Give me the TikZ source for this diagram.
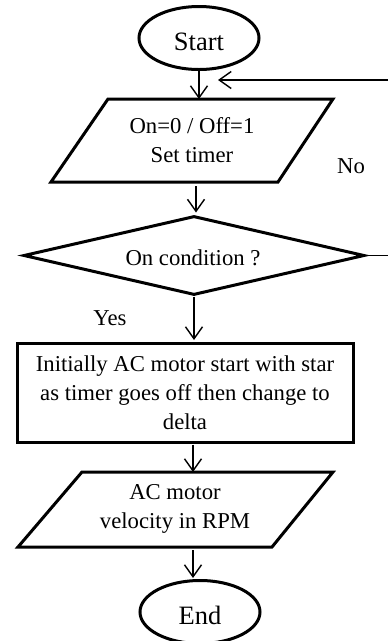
\documentclass[tikz,border=0pt]{standalone}
\usepackage{fontspec}
\setmainfont{Liberation Serif}
\usetikzlibrary{shapes.geometric,arrows.meta}
\begin{document}
\begin{tikzpicture}[x=1pt,y=-1pt,
  shapeline/.style={line width=3pt,line join=miter},
  conn/.style={line width=1.4pt,-{Straight Barb[length=12pt,width=17pt,line width=1.4pt]}},
  txt/.style={font=\fontsize{22.7}{29}\selectfont,align=center,inner sep=0pt},
  term/.style={shapeline,draw,ellipse,minimum width=120pt,minimum height=63pt,
    inner sep=0pt,font=\fontsize{26.5}{30}\selectfont,text height=25pt}]
\useasboundingbox (0,0) rectangle (388,641);
% Start
\node[term] (start) at (199,38) {Start};
% input parallelogram 1
\draw[shapeline] (108,99) -- (333,99) -- (278,182) -- (51,182) -- cycle;
\node[txt] (set) at (192,140) {On=0 / Off=1\\Set timer};
\coordinate (p1top) at (199,99);
\coordinate (p1bot) at (196,184);
% decision
\node[shapeline,draw,diamond,minimum width=341pt,minimum height=79pt,txt] (cond) at (194,255.5) {};
\node[txt] (condtxt) at (193,258) {On condition ?};
% process
\node[shapeline,draw,rectangle,minimum width=336pt,minimum height=99pt,txt] (proc) at (185,392.5)
  {Initially AC motor start with star\\as timer goes off then change to\\delta};
% output parallelogram 2
\draw[shapeline] (82,472) -- (333,472) -- (272,547) -- (18,547) -- cycle;
\node[txt] (vel) at (175,509) {AC motor\\velocity in RPM};
\coordinate (p2top) at (193,472);
\coordinate (p2bot) at (193,549);
% End
\node[term] (end) at (200,612) {End};
% labels
\node[txt] (yes) at (110,318) {Yes};
\node[txt] (no) at (351,166) {No};
% connectors
\draw[conn] (start.south) -- (p1top);
\draw[conn,shorten <=2pt,shorten >=2pt] (p1bot) -- (p1bot |- cond.north);
\draw[conn,shorten >=1.5pt] (cond.south) -- (cond.south |- proc.north);
\draw[conn,shorten <=1pt] (p2top |- proc.south) -- (p2top);
\draw[conn,shorten <=1pt,shorten >=1pt] (p2bot) -- (p2bot |- end.north);
\coordinate (loopin) at (218,80);
\draw[conn] (cond.east) -- (395,255.5) -- (395,80) -- (loopin);
\end{tikzpicture}
\end{document}
